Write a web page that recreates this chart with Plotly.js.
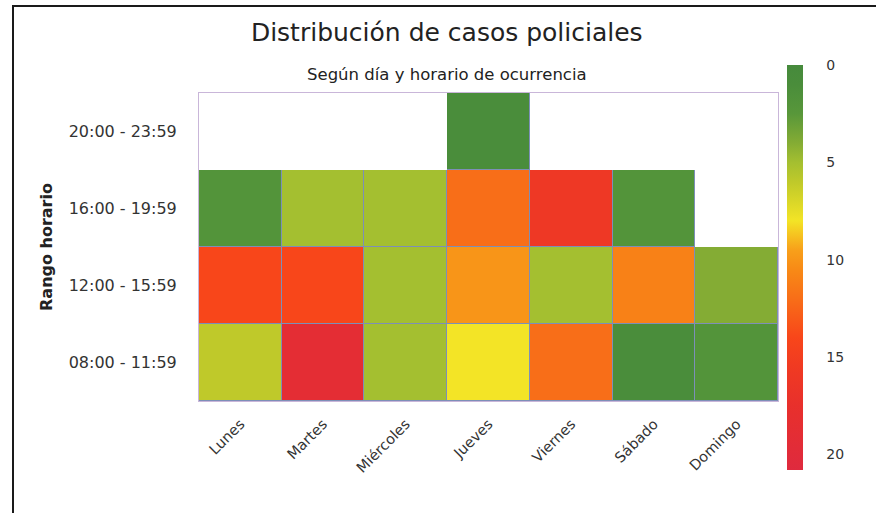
<!DOCTYPE html>
<html>
<head>
<meta charset="utf-8">
<script src="https://cdn.plot.ly/plotly-3.0.1.min.js"></script>
<style>
  html, body { margin: 0; padding: 0; background: #ffffff; }
  #wrap { position: relative; width: 876px; height: 513px; overflow: hidden; }
  #chart { width: 876px; height: 513px; }
  #frame { position: absolute; left: 12px; top: 5px; width: 900px; height: 600px;
           border-left: 2px solid #1a1a1a; border-top: 2px solid #1a1a1a; pointer-events: none; }
</style>
</head>
<body>
<div id="wrap">
  <div id="chart"></div>
  <div id="frame"></div>
</div>
<script>
// ---- data ----
const days = ["Lunes", "Martes", "Miércoles", "Jueves", "Viernes", "Sábado", "Domingo"];
const timeSlots = ["08:00 - 11:59", "12:00 - 15:59", "16:00 - 19:59", "20:00 - 23:59"];
const cases0800 = [6, 19, 5, 8, 12, 1, 2];
const cases1200 = [14, 14, 5, 10, 5, 11, 4];
const cases1600 = [2, 5, 5, 12, 16, 2, null];
const cases2000 = [null, null, null, 1, null, null, null];
const colorTicks = [0, 5, 10, 15, 20];

// ---- build ----
const rows = [cases0800, cases1200, cases1600, cases2000];
const MAXV = 20.8;
// colour stops (value -> colour); colour axis is reversed (0 at top)
const stops = [
  [0, "#468a3c"], [1, "#4a8d3b"], [2.5, "#58973a"], [4, "#84ac34"], [5, "#a4bf30"],
  [6, "#bfc92a"], [8, "#f3e426"], [9.5, "#f8a01a"], [10.5, "#f88a16"],
  [12, "#f86e18"], [14, "#f8461a"], [15.5, "#f03a22"], [17.5, "#e8302c"], [MAXV, "#df2a3e"]
];
const colorscale = stops.slice().reverse().map(s => [1 - s[0] / MAXV, s[1]]);
colorscale[0][0] = 0; colorscale[colorscale.length - 1][0] = 1;

const zNeg = rows.map(r => r.map(v => v == null ? null : -v));
const zBorder = rows.map(r => r.map(v => v == null ? null : 1));

const FONT = "DejaVu Sans, sans-serif";

const borderTrace = {
  type: "heatmap", x: days, y: timeSlots, z: zBorder,
  colorscale: [[0, "#7d8fb8"], [1, "#7d8fb8"]], showscale: false,
  hoverinfo: "skip"
};
const mainTrace = {
  type: "heatmap", x: days, y: timeSlots, z: zNeg, customdata: rows,
  xgap: 1, ygap: 1,
  zmin: -MAXV, zmax: 0, colorscale: colorscale,
  hovertemplate: "%{x}<br>%{y}<br>Casos: %{customdata}<extra></extra>",
  colorbar: {
    thickness: 16, thicknessmode: "pixels",
    len: 405, lenmode: "pixels",
    x: 1.0155, xanchor: "left", xpad: 0,
    y: 1.091, yanchor: "top", ypad: 0,
    outlinewidth: 0,
    tickmode: "array",
    tickvals: colorTicks.map(v => -v),
    ticktext: colorTicks.map(v => String(v)),
    ticks: "outside", ticklen: 21, tickcolor: "rgba(0,0,0,0)",
    tickfont: { family: FONT, size: 14, color: "#333333" }
  }
};

const layout = {
  width: 876, height: 513,
  margin: { l: 199, r: 98, t: 93, b: 112 },
  paper_bgcolor: "#ffffff", plot_bgcolor: "#ffffff",
  font: { family: FONT, color: "#333333" },
  title: {
    text: "Distribución de casos policiales",
    font: { family: FONT, size: 25, color: "#222222" },
    xref: "container", x: 0.51, xanchor: "center",
    yref: "container", y: 1 - 32 / 513, yanchor: "middle"
  },
  xaxis: {
    type: "category", categoryorder: "array", categoryarray: days,
    tickangle: -45, ticks: "outside", ticklen: 8, tickcolor: "rgba(0,0,0,0)",
    tickfont: { family: FONT, size: 14.5, color: "#333333" },
    showgrid: false, zeroline: false,
    showline: true, mirror: true, linecolor: "#c9b6d9", linewidth: 1,
    fixedrange: true
  },
  yaxis: {
    type: "category", categoryorder: "array", categoryarray: timeSlots,
    ticks: "outside", ticklen: 18, tickcolor: "rgba(0,0,0,0)",
    tickfont: { family: FONT, size: 16, color: "#333333" },
    showgrid: false, zeroline: false,
    showline: true, mirror: true, linecolor: "#c9b6d9", linewidth: 1,
    title: { text: "<b>Rango horario</b>", standoff: 12,
             font: { family: FONT, size: 16, color: "#222222" } },
    fixedrange: true
  },
  annotations: [{
    text: "Según día y horario de ocurrencia",
    xref: "paper", yref: "paper", x: (447 - 199) / 579, y: (401 - 75) / 308,
    xanchor: "center", yanchor: "middle", showarrow: false,
    font: { family: FONT, size: 16.5, color: "#222222" }
  }]
};

Plotly.newPlot("chart", [borderTrace, mainTrace], layout, { displayModeBar: false });
</script>
</body>
</html>
